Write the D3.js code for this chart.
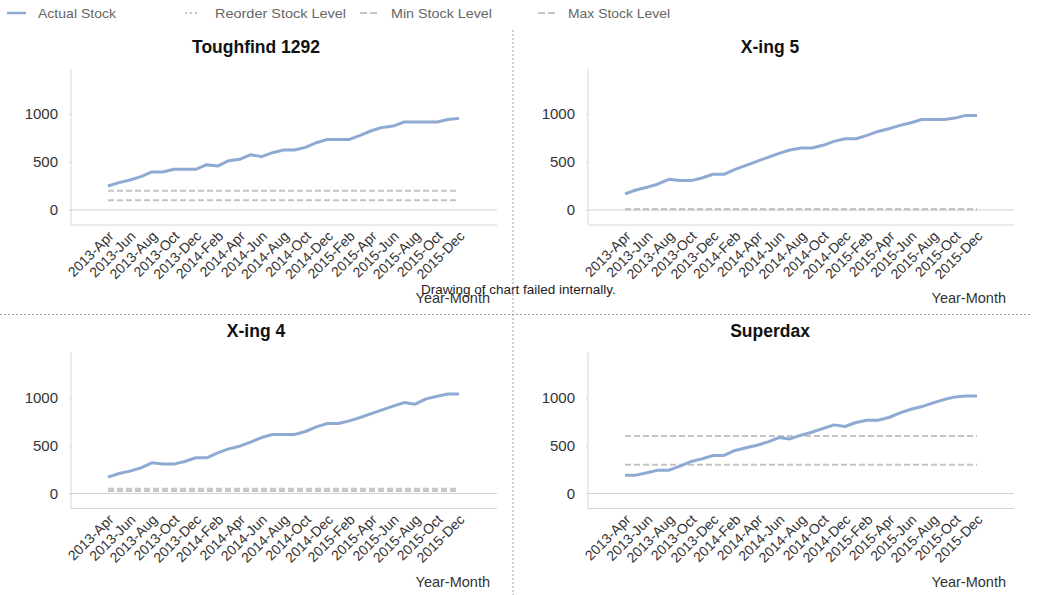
<!DOCTYPE html>
<html>
<head>
<meta charset="utf-8">
<script src="https://cdn.jsdelivr.net/npm/d3@7"></script>
<style>
  body { margin: 0; background: #fff; }
  svg { display: block; font-family: "Liberation Sans", Arial, sans-serif; }
</style>
</head>
<body>
<svg id="chart" width="1037" height="595"></svg>
<script>
// Months on the x axis (April 2013 .. December 2015)
const months = [
  "2013-Apr","2013-May","2013-Jun","2013-Jul","2013-Aug","2013-Sep","2013-Oct","2013-Nov","2013-Dec",
  "2014-Jan","2014-Feb","2014-Mar","2014-Apr","2014-May","2014-Jun","2014-Jul","2014-Aug","2014-Sep",
  "2014-Oct","2014-Nov","2014-Dec","2015-Jan","2015-Feb","2015-Mar","2015-Apr","2015-May","2015-Jun",
  "2015-Jul","2015-Aug","2015-Sep","2015-Oct","2015-Nov","2015-Dec"
];
// Every second month gets a label
const tickMonths = months.filter((m, i) => i % 2 === 0);
const yTicks = [0, 500, 1000];

const products = ["Toughfind 1292", "X-ing 5", "X-ing 4", "Superdax"];

const stockToughfind = [250,285,312,347,396,396,424,424,424,472,458,514,528,576,556,597,625,625,653,701,736,736,736,778,826,861,875,917,917,917,917,944,955];
const stockXing5 = [167,208,236,271,319,306,306,333,372,372,424,465,507,549,590,625,646,646,674,715,743,743,778,819,847,882,910,944,944,944,958,986,986];
const stockXing4 = [170,208,233,267,319,306,306,333,372,372,424,465,493,535,583,615,615,615,646,694,729,729,757,792,833,872,910,948,931,986,1014,1038,1038];
const stockSuperdax = [191,191,215,243,243,285,333,361,396,396,448,476,503,538,583,569,608,639,677,715,698,740,764,764,792,840,878,906,944,979,1007,1017,1017];

const reorderLevels = [200, 10, 50, 600];
const minLevels = [100, 5, 25, 300];

const stockSeries = [stockToughfind, stockXing5, stockXing4, stockSuperdax];

const legendItems = [
  { name: "Actual Stock", kind: "actual" },
  { name: "Reorder Stock Level", kind: "reorder" },
  { name: "Min Stock Level", kind: "min" },
  { name: "Max Stock Level", kind: "max" }
];

const svg = d3.select("#chart");
const lineBlue = "#8eaad2";
const levelGray = "#c4c4c4";

// Legend row
const legendX = [7, 185, 360, 538];
const legendSwatchW = [19, 13, 19, 18];
const legendTextX = [38, 215, 391, 568];
const legendTextW = [78, 131, 101, 102];
const legend = svg.append("g");
legendItems.forEach((it, i) => {
  const g = legend.append("g");
  g.append("line")
    .attr("x1", legendX[i]).attr("x2", legendX[i] + legendSwatchW[i])
    .attr("y1", 13).attr("y2", 13)
    .attr("stroke", it.kind === "actual" ? lineBlue : levelGray)
    .attr("stroke-width", it.kind === "actual" ? 2.5 : 2)
    .attr("stroke-dasharray", it.kind === "actual" ? null : (it.kind === "reorder" ? "2,3" : "7,3"));
  g.append("text")
    .attr("x", legendTextX[i]).attr("y", 18)
    .attr("font-size", 13.5).attr("fill", "#666")
    .attr("textLength", legendTextW[i]).attr("lengthAdjust", "spacingAndGlyphs")
    .text(it.name);
});

// Panel frames
const panels = [
  { ax: 71,  right: 497,  x0: 108, x1: 459, dy: 0,     tc: 256, ym: 490 },
  { ax: 588, right: 1014, x0: 625, x1: 977, dy: 0,     tc: 770, ym: 1006 },
  { ax: 71,  right: 497,  x0: 108, x1: 459, dy: 283.5, tc: 256, ym: 490 },
  { ax: 588, right: 1014, x0: 625, x1: 977, dy: 283.5, tc: 770, ym: 1006 }
];

panels.forEach((p, k) => {
  const g = svg.append("g").attr("transform", `translate(0,${p.dy})`);
  const x = d3.scalePoint().domain(months).range([p.x0, p.x1]);
  const y = d3.scaleLinear().domain([-157, 1470]).range([225, 69]);

  // Title
  g.append("text")
    .attr("x", p.tc).attr("y", 53)
    .attr("text-anchor", "middle")
    .attr("font-size", 17.5).attr("font-weight", "bold").attr("fill", "#111")
    .text(products[k]);

  // Plot frame: left axis line, zero line, bottom line
  g.append("line").attr("x1", p.ax).attr("x2", p.ax).attr("y1", y.range()[1]).attr("y2", y.range()[0])
    .attr("stroke", "#d6d6d6").attr("stroke-width", 1);
  g.append("line").attr("x1", p.ax).attr("x2", p.right).attr("y1", y(0)).attr("y2", y(0))
    .attr("stroke", "#d0d0d0").attr("stroke-width", 1);
  g.append("line").attr("x1", p.ax).attr("x2", p.right).attr("y1", y.range()[0]).attr("y2", y.range()[0])
    .attr("stroke", "#d6d6d6").attr("stroke-width", 1);

  // Y axis ticks and labels
  const yAxis = d3.axisLeft(y).tickValues(yTicks).tickFormat(d3.format("d")).tickSize(2).tickPadding(11);
  const ya = g.append("g").attr("transform", `translate(${p.ax},0)`).call(yAxis);
  ya.select(".domain").remove();
  ya.selectAll(".tick line").attr("stroke", "#cfcfcf");
  ya.selectAll(".tick text").attr("font-size", 15).attr("fill", "#333")
    .attr("font-family", "\"Liberation Sans\", Arial, sans-serif");

  // X axis labels, rotated
  const xAxis = d3.axisBottom(x).tickValues(tickMonths).tickSize(0).tickPadding(0);
  const xa = g.append("g").attr("transform", `translate(0,${y.range()[0]})`).call(xAxis);
  xa.select(".domain").remove();
  xa.selectAll(".tick text")
    .attr("font-size", 14).attr("fill", "#333")
    .attr("font-family", "\"Liberation Sans\", Arial, sans-serif")
    .attr("text-anchor", "end")
    .attr("dy", null).attr("y", 0)
    .attr("transform", "translate(6,12) rotate(-45)");

  // Axis title
  g.append("text")
    .attr("x", p.ym).attr("y", 303)
    .attr("text-anchor", "end")
    .attr("font-size", 14.5).attr("fill", "#333")
    .text("Year-Month");

  // Level lines
  const flat = v => months.map(m => ({ m, v }));
  const line = d3.line().x(d => x(d.m)).y(d => y(d.v));
  g.append("path").datum(flat(reorderLevels[k])).attr("d", line)
    .attr("fill", "none").attr("stroke", levelGray).attr("stroke-width", 2).attr("stroke-dasharray", "6,3");
  g.append("path").datum(flat(minLevels[k])).attr("d", line)
    .attr("fill", "none").attr("stroke", levelGray).attr("stroke-width", 2).attr("stroke-dasharray", "6,3");

  // Actual stock
  g.append("path").datum(months.map((m, i) => ({ m, v: stockSeries[k][i] }))).attr("d", line)
    .attr("fill", "none").attr("stroke", lineBlue).attr("stroke-width", 3)
    .attr("stroke-linejoin", "round");
});

// Status message
svg.append("text")
  .attr("x", 421).attr("y", 294)
  .attr("font-size", 13.5).attr("fill", "#222")
  .text("Drawing of chart failed internally.");

// Dividers between panels
svg.append("line").attr("x1", 513).attr("x2", 513).attr("y1", 30).attr("y2", 595)
  .attr("stroke", "#9a9a9a").attr("stroke-width", 1).attr("stroke-dasharray", "2,2");
svg.append("line").attr("x1", 0).attr("x2", 1030).attr("y1", 314.5).attr("y2", 314.5)
  .attr("stroke", "#9a9a9a").attr("stroke-width", 1).attr("stroke-dasharray", "2,2");
</script>
</body>
</html>
